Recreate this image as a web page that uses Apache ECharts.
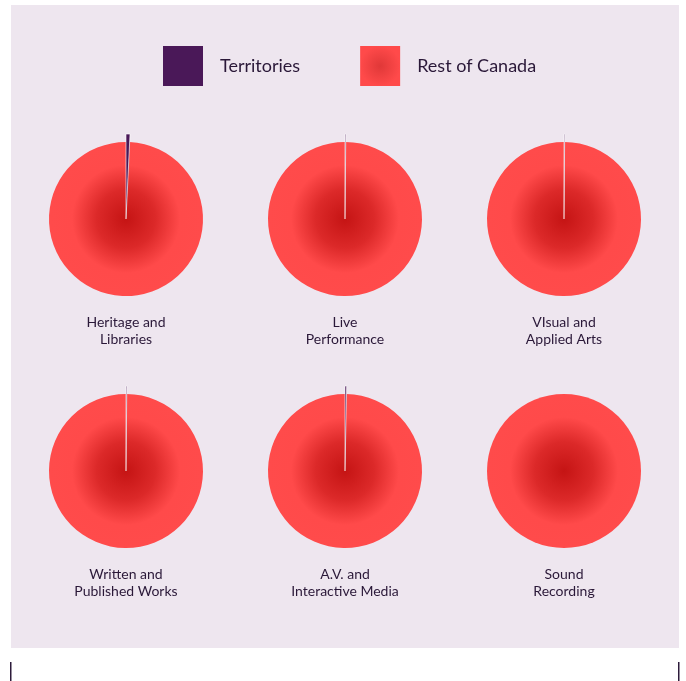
<!DOCTYPE html>
<html>
<head>
<meta charset="utf-8">
<script src="https://cdn.jsdelivr.net/npm/echarts@6/dist/echarts.min.js"></script>
<style>
html,body{margin:0;padding:0;background:#ffffff;}
#chart{width:686px;height:681px;}
</style>
</head>
<body>
<div id="chart"></div>
<script>
// Data (percent share of each domain)
const domains = ['Heritage and\nLibraries', 'Live\nPerformance', 'VIsual and\nApplied Arts',
                 'Written and\nPublished Works', 'A.V. and\nInteractive Media', 'Sound\nRecording'];
const territories = [0.75, 0.15, 0.13, 0.15, 0.3, 0];
const restOfCanada = [99.25, 99.85, 99.87, 99.85, 99.7, 100];
const seriesNames = ['Territories', 'Rest of Canada'];

const chart = echarts.init(document.getElementById('chart'), null, {renderer: 'canvas'});

const centersX = [126, 345, 564];
const centersY = [219, 471];
const restColor = {
  type: 'radial', x: 0.5, y: 0.5, r: 0.5,
  colorStops: [
    {offset: 0, color: '#c51414'},
    {offset: 0.38, color: '#dc2929'},
    {offset: 0.7, color: '#ff4a4a'},
    {offset: 1, color: '#ff4b4b'}
  ]
};
const terrColor = '#4a1858';
const textColor = '#2a1838';

const series = [];
const graphics = [
  {type: 'rect', shape: {x: 11, y: 5, width: 668, height: 643}, style: {fill: '#eee6ef'}, z: -10},
  {type: 'rect', shape: {x: 10, y: 662, width: 1.5, height: 19}, style: {fill: '#2d1b3b'}},
  {type: 'rect', shape: {x: 678, y: 662, width: 1.5, height: 19}, style: {fill: '#2d1b3b'}}
];

domains.forEach((d, i) => {
  const cx = centersX[i % 3];
  const cy = centersY[Math.floor(i / 3)];
  // base circle: Rest of Canada
  series.push({
    type: 'pie', name: d, radius: [0, 77], center: [cx, cy],
    startAngle: 90, clockwise: true, silent: true,
    label: {show: false}, labelLine: {show: false},
    data: [
      {name: seriesNames[0], value: territories[i], itemStyle: {color: 'rgba(0,0,0,0)'}},
      {name: seriesNames[1], value: restOfCanada[i], itemStyle: {color: restColor}}
    ]
  });
  // overlay: Territories slice (extends beyond)
  series.push({
    type: 'pie', name: d + ' T', radius: [0, 85], center: [cx, cy],
    startAngle: 90, clockwise: true, silent: true,
    label: {show: false}, labelLine: {show: false},
    data: [
      {name: seriesNames[0], value: territories[i],
       itemStyle: {color: terrColor, borderColor: '#ffffff', borderWidth: territories[i] > 0 ? 0.6 : 0}},
      {name: seriesNames[1], value: restOfCanada[i], itemStyle: {color: 'rgba(0,0,0,0)'}}
    ]
  });
  graphics.push({
    type: 'text', x: cx, y: cy + 95,
    style: {text: d, fill: textColor, font: '14px Lato', align: 'center', verticalAlign: 'top', lineHeight: 17}
  });
});

chart.setOption({
  backgroundColor: '#ffffff',
  animation: false,
  legend: {
    left: 158, top: 41,
    itemWidth: 40, itemHeight: 40, itemGap: 60,
    icon: 'rect',
    selectedMode: false,
    data: [
      {name: seriesNames[0], itemStyle: {color: '#4a1858', borderWidth: 0}},
      {name: seriesNames[1], itemStyle: {color: {type: 'radial', x: 0.5, y: 0.5, r: 0.5, colorStops: [{offset: 0, color: '#e03838'}, {offset: 1, color: '#ff4a4a'}]}, borderWidth: 0}}
    ],
    textStyle: {fontFamily: 'Lato', fontSize: 18, color: textColor, padding: [0, 0, 0, 12]}
  },
  graphic: graphics,
  series: series
});
</script>
</body>
</html>
